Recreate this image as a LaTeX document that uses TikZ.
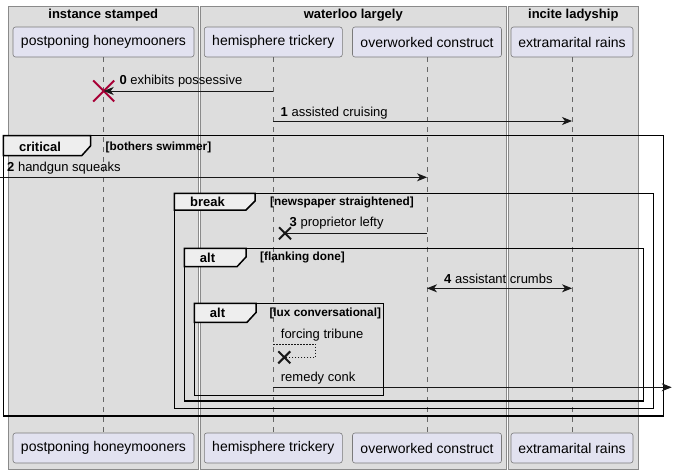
\documentclass[tikz,border=0pt]{standalone}
\usepackage{fontspec}
\setmainfont{Liberation Sans}
\usetikzlibrary{arrows.meta,shapes.misc}
\definecolor{grpfill}{HTML}{DDDDDD}
\definecolor{grpline}{HTML}{8A8A8A}
\definecolor{partfill}{HTML}{E2E2F0}
\definecolor{partline}{HTML}{7A7A7A}
\definecolor{tabfill}{HTML}{EEEEEE}
\definecolor{msgline}{HTML}{181818}
\definecolor{xred}{HTML}{A80036}
\begin{document}
\begin{tikzpicture}[x=1pt,y=-1pt,
  grp/.style={fill=grpfill,draw=grpline,line width=0.6pt},
  grptitle/.style={inner sep=0,font=\bfseries\fontsize{13}{15}\selectfont},
  part/.style={draw=partline,fill=partfill,rounded corners=2.5pt,minimum height=30pt,inner sep=0,font=\fontsize{14}{16}\selectfont,line width=0.6pt},
  life/.style={draw=black!60,dash pattern=on 5pt off 5pt,line width=0.6pt},
  frm/.style={line width=1.5pt,draw=black},
  tabshape/.style={fill=tabfill,line width=1.5pt,draw=black},
  msg/.style={draw=msgline,line width=0.8pt,-{Stealth[length=10pt,width=8pt,inset=3pt]}},
  msgboth/.style={draw=msgline,line width=0.8pt,{Stealth[length=10pt,width=8pt,inset=3pt]}-{Stealth[length=10pt,width=8pt,inset=3pt]}},
  plainmsg/.style={draw=msgline,line width=0.8pt},
  dotmsg/.style={draw=msgline,line width=0.8pt,dash pattern=on 1.5pt off 1.5pt},
  lbl/.style={anchor=west,inner sep=0,font=\fontsize{13}{15}\selectfont},
  grdlbl/.style={anchor=west,inner sep=0,font=\bfseries\fontsize{11.8}{14}\selectfont},
  tablbl/.style={inner sep=0,font=\bfseries\fontsize{13}{15}\selectfont},
  redx/.style={cross out,draw=xred,line width=2pt,minimum size=19pt,inner sep=0},
  blackx/.style={cross out,draw=msgline,line width=2pt,minimum size=10pt,inner sep=0}
]
\useasboundingbox (0,0) rectangle (673,474);
% group boxes
\draw[grp] (8,6) rectangle (198.5,469);
\draw[grp] (200.5,6) rectangle (506,469);
\draw[grp] (508,6) rectangle (638.5,469);
\node[grptitle] (g1) at (103.3,15.5) {instance stamped};
\node[grptitle] (g2) at (353.3,15.5) {waterloo largely};
\node[grptitle] (g3) at (573.3,15.5) {incite ladyship};
% participants
\node[part,minimum width=181pt] (pA) at (103.5,42) {postponing honeymooners};
\node[part,minimum width=138pt] (pB) at (273.3,42) {hemisphere trickery};
\node[part,minimum width=149pt] (pC) at (427,42) {overworked construct};
\node[part,minimum width=122pt] (pD) at (572,42) {extramarital rains};
\node[part,minimum width=181pt] (qA) at (103.5,448) {postponing honeymooners};
\node[part,minimum width=138pt] (qB) at (273.3,448) {hemisphere trickery};
\node[part,minimum width=149pt] (qC) at (427,448) {overworked construct};
\node[part,minimum width=122pt] (qD) at (572,448) {extramarital rains};
% lifelines
\draw[life] (pA.south) -- (qA.north);
\draw[life] (pB.south) -- (qB.north);
\draw[life] (pC.south) -- (qC.north);
\draw[life] (pD.south) -- (qD.north);
% frames
\draw[tabshape] (3.3,135.7) -- (90.7,135.7) -- (90.7,145.7) -- (81.7,155.7) -- (3.3,155.7) -- cycle;
\draw[frm] (3.3,135.7) rectangle (663.3,416);
\node[tablbl] (t1) at (40,146.5) {critical};
\node[grdlbl] (r1) at (105.5,147) {[bothers swimmer]};
\draw[tabshape] (174.3,193.3) -- (255,193.3) -- (255,201) -- (246,210) -- (174.3,210) -- cycle;
\draw[frm] (174.3,193.3) rectangle (653.3,408.3);
\node[tablbl] (t2) at (207.5,202) {break};
\node[grdlbl] (r2) at (270,202.5) {[newspaper straightened]};
\draw[tabshape] (184.3,248.3) -- (246,248.3) -- (246,257) -- (237,266.7) -- (184.3,266.7) -- cycle;
\draw[frm] (184.3,248.3) rectangle (643.3,401);
\node[tablbl] (t3) at (207.5,258) {alt};
\node[grdlbl] (r3) at (260,257.5) {[flanking done]};
\draw[tabshape] (194.3,303.3) -- (256,303.3) -- (256,312.5) -- (247,322.3) -- (194.3,322.3) -- cycle;
\draw[frm] (194.3,303.3) rectangle (383.3,395.3);
\node[tablbl] (t4) at (217.5,313) {alt};
\node[grdlbl] (r4) at (269.3,313.3) {[lux conversational]};
% message 0
\node[redx] (x0) at (103.7,91) {};
\draw[msg] (pB.south |- 0,91) -- (x0.center);
\node[lbl] (l0) at (119.3,81) {\textbf{0} exhibits possessive};
% message 1
\draw[msg] (pB.south |- 0,121) -- (pD.south |- 0,121);
\node[lbl] (l1) at (280.5,113) {\textbf{1} assisted cruising};
% message 2
\coordinate (left2) at (0,177.3);
\draw[msg] (left2) -- (pC.south |- 0,177.3);
\node[lbl] (l2) at (7,168.5) {\textbf{2} handgun squeaks};
% message 3
\node[blackx] (x3) at (285,233.3) {};
\draw[plainmsg] (pC.south |- 0,233.3) -- (x3.center);
\node[lbl] (l3) at (289.5,223.5) {\textbf{3} proprietor lefty};
% message 4
\draw[msgboth] (pC.south |- 0,288.3) -- (pD.south |- 0,288.3);
\node[lbl] (l4) at (444,279.3) {\textbf{4} assistant crumbs};
% forcing tribune (self)
\node[blackx] (x5) at (284.3,357.3) {};
\coordinate (s5a) at (315.7,344);
\coordinate (s5b) at (315.7,357.3);
\draw[dotmsg] (pB.south |- 0,344) -- (s5a) -- (s5b) -- (x5.center);
\node[lbl] (l5) at (280.7,335) {forcing tribune};
% remedy conk
\coordinate (right6) at (671.7,387.3);
\draw[msg] (pB.south |- 0,387.3) -- (right6);
\node[lbl] (l6) at (280.7,378.3) {remedy conk};
\end{tikzpicture}
\end{document}
